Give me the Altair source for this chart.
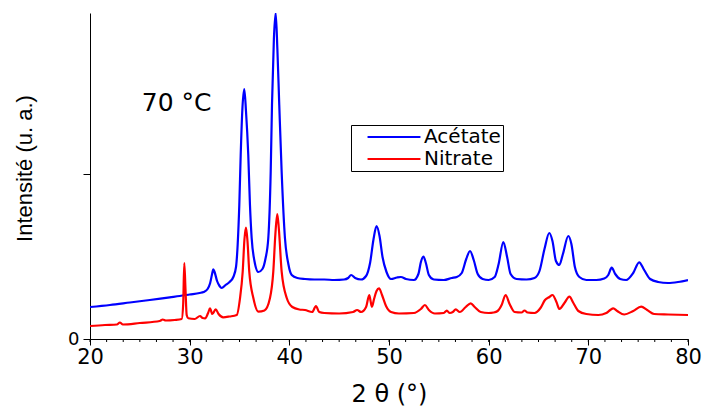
import altair as alt
import pandas as pd

# Diffractogram read-outs: 2θ (degrees) and intensity (arbitrary units)
acetate_theta = [
    20.0, 22.0, 24.0, 26.0, 28.0, 29.0, 30.0, 31.0, 31.4, 31.8, 32.05, 32.25, 32.37, 32.5,
    32.75, 33.0, 33.21, 33.6, 34.0, 34.38, 34.65, 34.82, 34.98, 35.12, 35.3, 35.48, 35.65,
    35.88, 36.05, 36.22, 36.5, 36.89, 37.3, 37.6, 37.89, 38.13, 38.26, 38.45, 38.63, 38.8,
    38.99, 39.23, 39.56, 39.9, 40.24, 40.8, 41.57, 42.5, 43.5, 44.5, 45.5, 45.9, 46.2, 46.6,
    47.2, 47.7, 48.1, 48.45, 48.75, 49.05, 49.35, 49.75, 50.2, 50.8, 51.2, 51.7, 52.5, 52.95,
    53.2, 53.45, 53.7, 54.0, 54.5, 55.5, 56.3, 56.8, 57.3, 57.75, 58.13, 58.5, 58.9, 59.4,
    60.0, 60.6, 61.0, 61.47, 61.85, 62.2, 62.8, 63.8, 64.6, 65.1, 65.6, 66.08, 66.4, 66.75,
    67.09, 67.45, 67.99, 68.3, 68.65, 69.1, 69.8, 70.8, 71.6, 72.0, 72.34, 72.7, 73.2, 73.8,
    74.5, 75.1, 75.6, 76.2, 77.0, 78.0, 79.0, 80.0,
]
acetate_int = [
    32, 34, 36.5, 39, 41.7, 43, 44.5, 46, 47, 50, 55.7, 65, 69.7, 67,
    58, 53, 51, 54, 57, 62, 72, 95, 134, 184, 232, 250, 228,
    184, 134, 101, 78, 67, 70, 80, 101, 167, 234, 300, 326, 290,
    234, 167, 101, 75, 64, 61, 60, 59.5, 59.5, 59, 59.5, 61, 64, 61,
    59.5, 63, 76, 100, 113, 103, 82, 67, 60, 61.5, 62, 60, 59, 65,
    77, 82.5, 76, 64, 59.5, 59, 61, 62, 66, 80, 88, 79, 65, 60,
    59, 62, 75, 97, 82, 65, 60, 59.5, 61, 68, 90, 106, 98, 78,
    74, 85, 103, 95, 72, 62, 59, 59, 60.5, 64, 71.3, 65, 60, 59,
    66, 76.7, 69, 60, 57, 56, 57, 59,
]

nitrate_theta = [
    20.0, 21.5, 22.7, 23.0, 23.3, 25.0, 27.0, 27.3, 27.6, 28.5, 29.2, 29.35, 29.46, 29.58,
    29.7, 29.86, 30.5, 31.04, 31.3, 31.54, 31.85, 32.04, 32.27, 32.61, 32.9, 33.37, 34.0,
    34.72, 35.05, 35.32, 35.5, 35.65, 35.8, 35.98, 36.39, 36.89, 37.5, 38.06, 38.39, 38.6,
    38.79, 38.95, 39.23, 39.74, 40.3, 41.0, 41.57, 42.3, 42.67, 43.0, 43.5, 45.0, 46.4, 46.8,
    47.2, 47.7, 48.02, 48.15, 48.29, 48.5, 48.75, 49.0, 49.3, 49.7, 50.2, 51.0, 52.5, 53.2,
    53.6, 54.0, 54.6, 55.5, 55.8, 56.1, 56.4, 56.7, 57.1, 57.7, 58.2, 58.6, 59.2, 60.0,
    60.5, 60.9, 61.3, 61.7, 62.1, 62.6, 63.3, 63.6, 63.9, 64.6, 65.2, 65.65, 66.1, 66.4,
    66.8, 67.1, 67.6, 68.1, 68.5, 69.0, 69.8, 71.0, 71.8, 72.2, 72.5, 72.9, 73.6, 74.5,
    75.3, 75.9, 76.6, 78.0, 80.0,
]
nitrate_int = [
    13, 14, 14.5, 16.5, 14.5, 16, 18, 19.5, 18.5, 19, 20, 35, 76, 50,
    24, 20.7, 20, 23, 21, 20.7, 26, 30.7, 25, 29.7, 25, 21.7, 22.5,
    24, 40.7, 67.3, 100, 111.3, 98, 67.3, 41, 27.3, 28.5, 41, 67.3, 105,
    125, 110, 67.3, 41, 32, 29.5, 29, 27, 33, 27, 26, 25.5, 27, 29,
    27, 32, 44, 38, 32.3, 40, 48, 50.7, 44, 33, 27, 25.5, 26, 30,
    34, 29, 25.5, 26, 28.3, 26, 27, 29.7, 27, 32, 35.7, 32, 27, 26,
    26.5, 28, 34, 44, 35, 27, 26.5, 28.5, 26.5, 26, 31, 39, 42, 44,
    37, 30, 36, 42.3, 36, 28, 25, 24, 26, 29, 30.7, 28, 24.5, 28,
    32.3, 29, 25, 24.5, 24,
]

series_names = ["Acétate", "Nitrate"]
series_colors = ["#0000ff", "#ff0000"]

x_major = [20, 30, 40, 50, 60, 70, 80]
x_minor = [20 + k * 10 / 6 for k in range(37)]
y_ticks = [0, 165]
y_max = 326

note_text = ["70 °C"]
note_theta = [28.7]
note_int = [236]

AXIS_FONT = "DejaVu Sans"

df = pd.concat(
    [
        pd.DataFrame({"theta": acetate_theta, "intensity": acetate_int, "sample": series_names[0]}),
        pd.DataFrame({"theta": nitrate_theta, "intensity": nitrate_int, "sample": series_names[1]}),
    ],
    ignore_index=True,
)
df["order"] = range(len(df))

x_scale = alt.Scale(domain=[20, 80], nice=False, zero=False)
y_scale = alt.Scale(domain=[0, y_max], nice=False)

# One axis definition shared by every layer so the merged axes agree
x_axis = alt.Axis(
    title="2 θ (°)",
    values=x_major,
    tickSize=6,
    format="d",
    labelOverlap=False,
    labelFont=AXIS_FONT,
    labelFontSize=21,
    labelPadding=1,
    labelColor="#000000",
    labelFlush=False,
    titleFont=AXIS_FONT,
    titleFontSize=24,
    titleFontWeight="normal",
    titleColor="#000000",
    titlePadding=15,
    domainColor="#000000",
    tickColor="#000000",
    grid=False,
)
y_axis = alt.Axis(
    title="Intensité (u. a.)",
    values=y_ticks,
    tickSize=7,
    labelExpr="datum.value == 0 ? '0' : ''",
    labelOverlap=False,
    labelFont=AXIS_FONT,
    labelFontSize=18,
    labelPadding=4,
    labelColor="#000000",
    titleFont="Liberation Sans",
    titleFontSize=22,
    titleFontWeight="normal",
    titleColor="#000000",
    titleX=-54,
    titleY=155,
    domainColor="#000000",
    tickColor="#000000",
    grid=False,
)

lines = (
    alt.Chart(df)
    .mark_line(strokeWidth=2.2, interpolate="monotone", clip=True)
    .encode(
        x=alt.X("theta:Q", scale=x_scale, axis=x_axis),
        y=alt.Y("intensity:Q", scale=y_scale, axis=y_axis),
        color=alt.Color(
            "sample:N",
            scale=alt.Scale(domain=series_names, range=series_colors),
            legend=alt.Legend(
                title=None,
                orient="none",
                legendX=261,
                legendY=112,
                symbolType="M-5,0H5",
                symbolSize=112,
                symbolStrokeWidth=2,
                symbolOffset=31,
                labelOffset=20,
                labelFont=AXIS_FONT,
                labelFontSize=20,
                labelColor="#000000",
                padding=2,
                rowPadding=2,
                strokeColor="#000000",
                fillColor="#ffffff",
            ),
        ),
        order="order:Q",
    )
)

# Short minor ticks between the labelled 2θ positions
minor_ticks = (
    alt.Chart(pd.DataFrame({"theta": x_minor}))
    .mark_rule(color="#000000", strokeWidth=1, clip=False)
    .encode(x=alt.X("theta:Q", scale=x_scale, axis=x_axis), y=alt.value(y_max), y2=alt.value(y_max + 3))
)

note = (
    alt.Chart(pd.DataFrame({"text": note_text, "theta": note_theta, "intensity": note_int}))
    .mark_text(font=AXIS_FONT, fontSize=25, color="#000000", align="center", baseline="middle")
    .encode(
        x=alt.X("theta:Q", scale=x_scale, axis=x_axis),
        y=alt.Y("intensity:Q", scale=y_scale, axis=y_axis),
        text="text:N",
    )
)

chart = (
    alt.layer(lines, minor_ticks, note)
    .properties(
        width=598,
        height=326,
        padding={"left": 90, "top": 13, "right": 14, "bottom": 68},
        autosize=alt.AutoSizeParams(type="none"),
        background="#ffffff",
    )
    .configure_view(stroke=None)
)

chart.save("out.html", embed_options={"renderer": "svg", "actions": False})
